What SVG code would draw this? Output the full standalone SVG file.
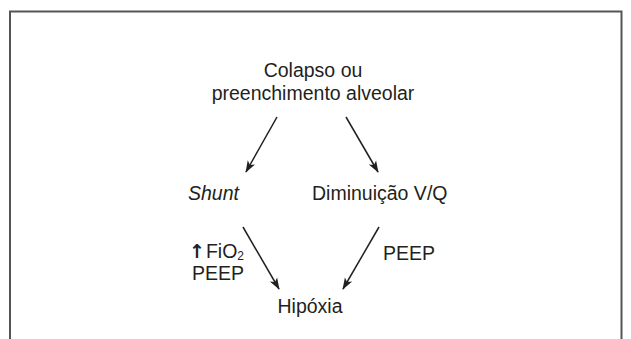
<svg xmlns="http://www.w3.org/2000/svg" width="631" height="339" viewBox="0 0 631 339">
<style>
text{font-family:"Liberation Sans",Arial,sans-serif;font-size:19.5px;fill:#231f20}
.c{text-anchor:middle}
.e{stroke:#231f20;stroke-width:1.5;fill:none}
</style>
<defs>
<marker id="ah" markerWidth="12" markerHeight="10" refX="11" refY="5" orient="auto" markerUnits="userSpaceOnUse">
<path d="M0,0.8 L12,5 L0,9.2 L3,5 Z" fill="#231f20"/>
</marker>
</defs>
<rect width="631" height="339" fill="#fff"/>
<path d="M10,345 V11.5 H621.5 V345" fill="none" stroke="#555" stroke-width="2"/>
<g id="n-colapso"><text class="c" x="313" y="77">Colapso ou</text><text class="c" x="313" y="100">preenchimento alveolar</text></g>
<g id="n-shunt"><text x="188" y="200" font-style="italic">Shunt</text></g>
<g id="n-vq"><text x="312" y="200">Diminuição V/Q</text></g>
<g id="n-hipoxia"><text class="c" x="310" y="313">Hipóxia</text></g>
<g id="labels">
<text x="189" y="258"><tspan font-family="DejaVu Sans" font-weight="bold" font-size="19">↑</tspan><tspan dx="1">FiO</tspan><tspan font-size="12" dy="2">2</tspan></text>
<text x="192" y="280">PEEP</text>
<text x="383" y="260">PEEP</text>
</g>
<g id="connectors">
<line class="e" x1="277" y1="117" x2="246" y2="172" marker-end="url(#ah)"/>
<line class="e" x1="346" y1="117" x2="378" y2="172" marker-end="url(#ah)"/>
<line class="e" x1="243" y1="227" x2="279" y2="289" marker-end="url(#ah)"/>
<line class="e" x1="379" y1="227" x2="343" y2="289" marker-end="url(#ah)"/>
</g>
</svg>
